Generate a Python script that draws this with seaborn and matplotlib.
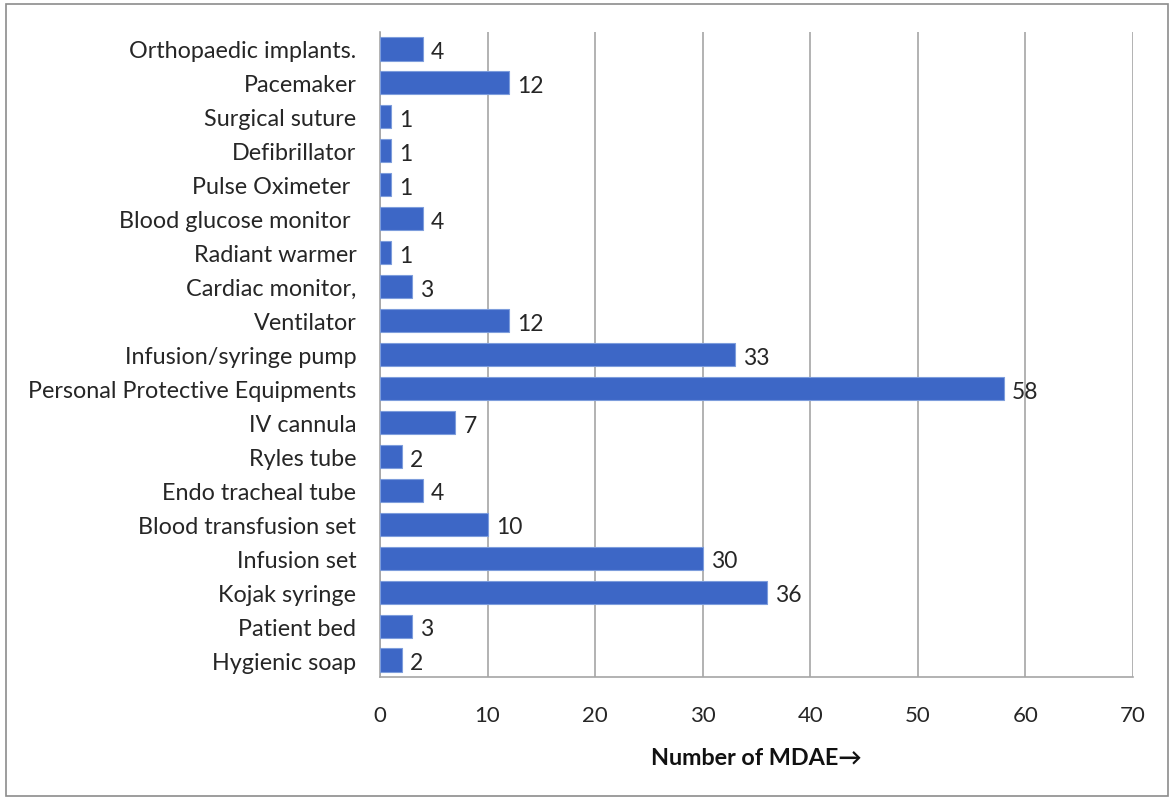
import matplotlib
matplotlib.use("Agg")
import matplotlib.pyplot as plt
from matplotlib.patches import Rectangle
import seaborn as sns
import pandas as pd

devices = [
    "Orthopaedic implants.", "Pacemaker", "Surgical suture", "Defibrillator",
    "Pulse Oximeter ", "Blood glucose monitor ", "Radiant warmer", "Cardiac monitor,",
    "Ventilator", "Infusion/syringe pump", "Personal Protective Equipments",
    "IV cannula", "Ryles tube", "Endo tracheal tube", "Blood transfusion set",
    "Infusion set", "Kojak syringe", "Patient bed", "Hygienic soap",
]
counts = [4, 12, 1, 1, 1, 4, 1, 3, 12, 33, 58, 7, 2, 4, 10, 30, 36, 3, 2]
x_ticks = [0, 10, 20, 30, 40, 50, 60, 70]

df = pd.DataFrame({"device": devices, "count": counts})

sns.set_theme(style="white")
plt.rcParams["font.family"] = ["Lato", "DejaVu Sans"]

fig = plt.figure(figsize=(11.75, 8.03), dpi=100)
ax = fig.add_axes([0.3234, 0.1557, 0.6409, 0.8032])

sns.barplot(data=df, x="count", y="device", orient="h", color="#3d67c6",
            width=0.68, saturation=1, edgecolor="#7d9ddc", linewidth=0.8,
            ax=ax, zorder=3)

ax.set_xlim(0, 70)
ax.set_xticks(x_ticks)
ax.set_xticklabels([str(t) for t in x_ticks], fontsize=16, color="#262626")
ax.tick_params(axis="x", length=0, pad=20)
ax.tick_params(axis="y", length=0, pad=17, labelsize=16.8, labelcolor="#262626")
ax.xaxis.grid(True, color="#a6a6a6", linewidth=1.2, zorder=0)
ax.yaxis.grid(False)
for side in ("top", "right"):
    ax.spines[side].set_visible(False)
for side in ("left", "bottom"):
    ax.spines[side].set_color("#a6a6a6")
    ax.spines[side].set_linewidth(1.2)

ax.set_ylabel("")
ax.set_xlabel("Number of MDAE\u2192", fontsize=16.8, fontweight="bold",
              color="#111111", labelpad=16)

for i, v in enumerate(counts):
    ax.text(v + 0.75, i + 0.08, str(v), va="center", ha="left",
            fontsize=16.5, color="#262626", zorder=4)

fig.patches.append(Rectangle((0.005, 0.007), 0.989, 0.987, transform=fig.transFigure,
                             fill=False, edgecolor="#8c8c8c", linewidth=1.2))

fig.savefig("out.png", dpi=100, facecolor="white")
